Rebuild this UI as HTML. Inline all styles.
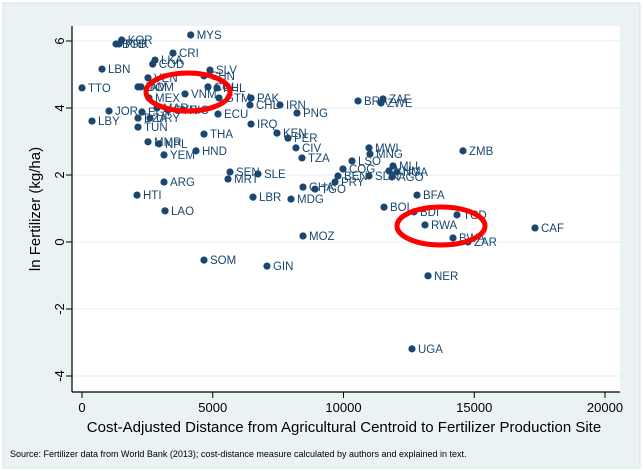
<!DOCTYPE html>
<html><head><meta charset="utf-8"><style>
body{margin:0;background:#fff}
svg{display:block;font-family:"Liberation Sans",Arial,sans-serif}
</style></head><body>
<svg id="chart" width="643" height="471" viewBox="0 0 643 471">
<rect x="0" y="0" width="643" height="471" fill="#fff"/>
<rect x="3" y="3" width="637" height="465" fill="#eaf2f3" stroke="#d8e2e4"/>
<rect x="72" y="26" width="548" height="366" fill="#fff"/>
<g id="grid"></g><g id="axes"></g><g id="pts"></g>
<ellipse cx="188" cy="92" rx="42" ry="19" fill="none" stroke="#ff0000" stroke-width="5"/>
<ellipse cx="441" cy="226" rx="44" ry="19" fill="none" stroke="#ff0000" stroke-width="5"/>
<text transform="translate(40,209) rotate(-90)" text-anchor="middle" font-size="15" fill="#000">ln Fertilizer (kg/ha)</text>
<text x="344" y="432" text-anchor="middle" font-size="15" fill="#000">Cost-Adjusted Distance from Agricultural Centroid to Fertilizer Production Site</text>
<text x="10" y="457" font-size="9" fill="#000">Source: Fertilizer data from World Bank (2013); cost-distance measure calculated by authors and explained in text.</text>
</svg>
<script>
const labels=["KOR","BGD","PRK","MYS","CRI","LKA","COD","LBN","SLV","CHN","VEN","TTO","JAM","DOM","VNM","COL","PHL","MEX","GTM","PAK","CHL","IRN","PNG","JOR","ECU","NIC","LBY","TUN","IRQ","THA","KEN","PER","MMR","NPL","HND","YEM","CIV","TZA","URY","EGY","MAR","DZA","SYR","SEN","MRT","SLE","ARG","HTI","LBR","MDG","GHA","TGO","LAO","MOZ","SOM","GIN","BRA","ZAF","ZWE","MWI","MNG","MLI","KHM","NGA","LSO","COG","BEN","SDN","AGO","PRY","ZMB","BFA","BOL","BDI","TCD","RWA","CAF","ZAR","BWA","NER","UGA"];
const xVals=[1518,1300,1415,4157,3480,2792,2704,765,4895,4665,2524,0,2141,2256,3939,4818,5162,2562,5239,6463,6424,7572,8222,1032,5200,3862,382,2141,6463,4665,7457,7877,2524,2944,4359,3136,8183,8413,2600,2294,2868,2141,3289,5660,5583,6730,3136,2103,6539,7992,8451,8910,3174,8451,4665,7074,10554,11510,11434,10975,11013,11893,11740,12046,10325,9981,9789,10975,11855,9675,14569,12810,11549,12696,14340,13116,17323,14760,14187,13231,12619];
const yVals=[6.03,5.91,5.91,6.18,5.64,5.43,5.31,5.16,5.13,4.96,4.90,4.60,4.63,4.63,4.42,4.63,4.60,4.30,4.30,4.30,4.09,4.09,3.85,3.91,3.82,3.94,3.61,3.43,3.52,3.22,3.25,3.10,2.99,2.93,2.72,2.60,2.81,2.51,3.70,3.88,4.00,3.70,3.94,2.09,1.88,2.03,1.79,1.40,1.34,1.28,1.64,1.58,0.93,0.18,-0.54,-0.72,4.21,4.27,4.15,2.81,2.63,2.27,2.12,2.09,2.42,2.18,1.97,1.97,1.94,1.79,2.72,1.40,1.04,0.90,0.81,0.51,0.42,0.00,0.12,-1.01,-3.19];
const xTicks=[0,5000,10000,15000,20000];
const yTicks=[-4,-2,0,2,4,6];
const NS="http://www.w3.org/2000/svg";
const sx=v=>82+v*(523/20000);
const sy=v=>242-v*33.5;
function mk(tag,attrs,parent,txt){const e=document.createElementNS(NS,tag);for(const k in attrs)e.setAttribute(k,attrs[k]);if(txt!==undefined)e.textContent=txt;parent.appendChild(e);return e;}
const grid=document.getElementById('grid'),axes=document.getElementById('axes'),pts=document.getElementById('pts');
yTicks.forEach(t=>{
 const g=mk('line',{x1:72,x2:620,y1:sy(t),y2:sy(t),stroke:'#e6eef0','stroke-width':1},grid);
 
 
 mk('line',{x1:66,x2:72,y1:sy(t),y2:sy(t),stroke:'#000'},axes);
 const l=mk('text',{transform:`translate(64,${sy(t)}) rotate(-90)`,'text-anchor':'middle','font-size':13},axes,String(t));
 
 
});
xTicks.forEach(t=>{
 mk('line',{x1:sx(t),x2:sx(t),y1:392,y2:398,stroke:'#000'},axes);
 const l=mk('text',{x:sx(t),y:412,'text-anchor':'middle','font-size':13},axes,String(t));
 
 
});
mk('line',{x1:72,x2:72,y1:26,y2:392,stroke:'#000','stroke-width':1.2},axes);
mk('line',{x1:72,x2:620,y1:392,y2:392,stroke:'#000','stroke-width':1.2},axes);
labels.forEach((lab,i)=>{
 const cx=sx(xVals[i]),cy=sy(yVals[i]);
 const c=mk('circle',{cx:cx,cy:cy,r:3.6,fill:'#1a476f'},pts);
 
 
 const t=mk('text',{x:cx+6,y:cy+4,'font-size':11.5,fill:'#1a476f'},pts,lab);
 
 
});
</script>
</body></html>
